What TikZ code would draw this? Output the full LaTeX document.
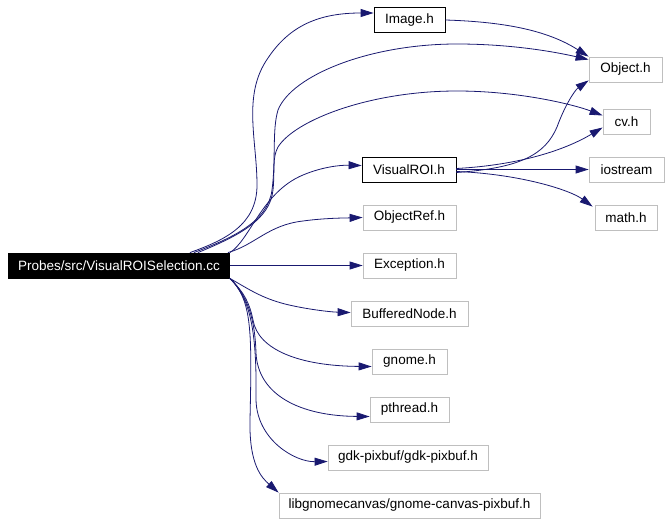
\documentclass[tikz,border=0pt]{standalone}
\usepackage{fontspec}
\setmainfont{Liberation Sans}
\usetikzlibrary{arrows.meta}
\definecolor{edgeblue}{HTML}{191970}
\definecolor{boxgray}{HTML}{BFBFBF}
\tikzset{
	file/.style={draw=boxgray,line width=0.8pt,minimum height=25pt,inner sep=0pt,font=\fontsize{13.5}{15}\selectfont},
	docfile/.style={file,draw=black},
	rootfile/.style={file,draw=black,fill=black,text=white},
	dep/.style={draw=edgeblue,line width=0.8pt,-{Triangle[length=13pt,width=8pt]}}
}

\begin{document}
\begin{tikzpicture}[x=1pt,y=-1pt]
			\useasboundingbox (0,0) rectangle (668,524);
			\node[rootfile,minimum width=221pt] (main) at (119,265.5) {Probes/src/VisualROISelection.cc};
			\node[docfile,minimum width=71pt] (img) at (409.5,20) {Image.h};
			\node[file,minimum width=73pt] (obj) at (625.5,69.5) {Object.h};
			\node[file,minimum width=47pt] (cv) at (626.5,121.5) {cv.h};
			\node[docfile,minimum width=94pt] (vroi) at (409,169.5) {VisualROI.h};
			\node[file,minimum width=75pt] (ios) at (626.5,169.5) {iostream};
			\node[file,minimum width=62pt] (math) at (626,217.5) {math.h};
			\node[file,minimum width=93pt] (oref) at (409.5,217.5) {ObjectRef.h};
			\node[file,minimum width=93pt] (exc) at (409.5,265.5) {Exception.h};
			\node[file,minimum width=117pt] (buf) at (409.5,313.5) {BufferedNode.h};
			\node[file,minimum width=75pt] (gnome) at (409.5,361.5) {gnome.h};
			\node[file,minimum width=79pt] (pth) at (409.5,409.5) {pthread.h};
			\node[file,minimum width=160pt] (gdk) at (408,457.5) {gdk-pixbuf/gdk-pixbuf.h};
			\node[file,minimum width=261pt] (lib) at (409.5,505.5) {libgnomecanvas/gnome-canvas-pixbuf.h};
			
			\draw[dep] ([xshift=-40pt]main.north east) .. controls (225,240) and (257,225) .. (257,185) .. controls (257,140) and (242,95) .. (268,58) .. controls (290,25) and (320,13) .. ([yshift=7pt]img.west);
			\draw[dep] ([xshift=-36pt]main.north east) .. controls (232,238) and (268,222) .. (272,190) .. controls (276,160) and (272,130) .. (278,110) .. controls (292,75) and (370,44) .. (457,44) .. controls (515,44) and (560,53) .. ([yshift=-3pt]obj.north west);
			\draw[dep] ([xshift=-32pt]main.north east) .. controls (238,236) and (270,220) .. (273,190) .. controls (275,170) and (272,158) .. (278,147) .. controls (295,120) and (370,91) .. (457,91) .. controls (520,91) and (575,105) .. ([yshift=6pt]cv.west);
			\draw[dep] (main.north east) .. controls (250,240) and (262,192) .. (303,175) .. controls (322,167) and (340,165) .. ([yshift=4pt]vroi.west);
			\draw[dep] ([xshift=-2pt]main.north east) .. controls (255,245) and (268,225) .. (303,221) .. controls (325,218) and (345,218) .. (oref.west);
			\draw[dep] (main) -- (exc);
			\draw[dep] (main.south east) .. controls (250,290) and (262,298) .. (285,304) .. controls (305,309) and (330,312) .. ([yshift=1pt]buf.west);
			\draw[dep] (main.south east) .. controls (245,293) and (250,305) .. (253,320) .. controls (258,350) and (300,366) .. ([yshift=-5pt]gnome.west);
			\draw[dep] (main.south east) .. controls (248,296) and (255,320) .. (256,353) .. controls (258,395) and (300,416) .. ([yshift=-7pt]pth.west);
			\draw[dep] (main.south east) .. controls (250,298) and (257,330) .. (256,400) .. controls (257,440) and (295,462) .. ([yshift=-4pt]gdk.west);
			\draw[dep] (main.south east) .. controls (252,300) and (252,330) .. (250,420) .. controls (249,465) and (262,478) .. (lib.north west);
			
			\draw[dep] (img.east) .. controls (510,22) and (550,32) .. (obj.north west);
			\draw[dep] ([yshift=-3pt]vroi.east) .. controls (520,168) and (545,155) .. (557,127) .. controls (565,105) and (575,90) .. ([yshift=2pt]obj.south west);
			\draw[dep] ([yshift=1pt]vroi.east) .. controls (520,165) and (565,150) .. ([yshift=-6pt]cv.west);
			\draw[dep] (vroi) -- (ios);
			\draw[dep] ([yshift=-2pt]vroi.east) .. controls (520,174) and (570,190) .. ([xshift=-2pt,yshift=-2pt]math.north west);
		\end{tikzpicture}
\end{document}
